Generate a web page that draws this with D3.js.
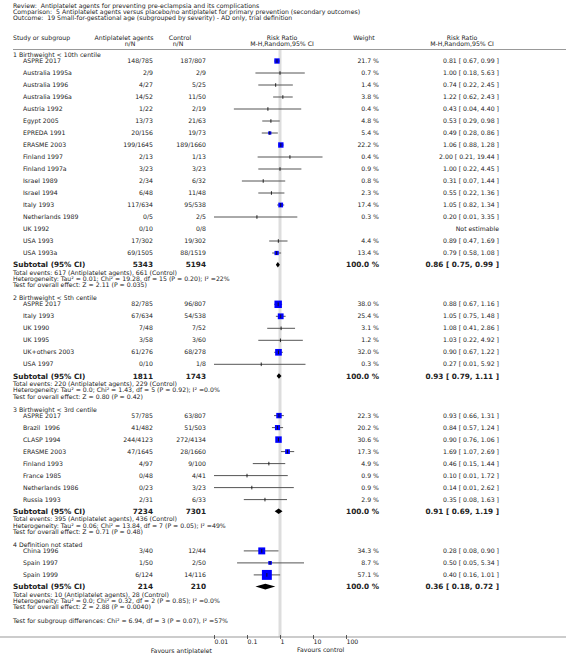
<!DOCTYPE html>
<html><head><meta charset="utf-8">
<script src="https://cdn.jsdelivr.net/npm/d3@7/dist/d3.min.js"></script>
<style>
html,body{margin:0;padding:0;background:#fff;}
svg text{font-family:"DejaVu Sans",Verdana,sans-serif;white-space:pre;fill:#222;}
</style></head>
<body>
<svg id="chart" width="566" height="661"></svg>
<script>
// ---------- DATA ----------
const titleLines = [
  "Review:  Antiplatelet agents for preventing pre-eclampsia and its complications",
  "Comparison:  5 Antiplatelet agents versus placebo/no antiplatelet for primary prevention (secondary outcomes)",
  "Outcome:  19 Small-for-gestational age (subgrouped by severity) - AD only, trial definition"
];
const groupTitles = ["1 Birthweight < 10th centile","2 Birthweight < 5th centile","3 Birthweight < 3rd centile","4 Definition not stated"];
const studyGroup = [0,0,0,0,0,0,0,0,0,0,0,0,0,0,0,0,0, 1,1,1,1,1,1, 2,2,2,2,2,2,2,2, 3,3,3];
const studyNames = ["ASPRE 2017","Australia 1995a","Australia 1996","Australia 1996a","Austria 1992","Egypt 2005","EPREDA 1991","ERASME 2003","Finland 1997","Finland 1997a","Israel 1989","Israel 1994","Italy 1993","Netherlands 1989","UK 1992","USA 1993","USA 1993a",
  "ASPRE 2017","Italy 1993","UK 1990","UK 1995","UK+others 2003","USA 1997",
  "ASPRE 2017","Brazil  1996","CLASP 1994","ERASME 2003","Finland 1993","France 1985","Netherlands 1986","Russia 1993",
  "China 1996","Spain 1997","Spain 1999"];
const antiplateletNN = ["148/785","2/9","4/27","14/52","1/22","13/73","20/156","199/1645","2/13","3/23","2/34","6/48","117/634","0/5","0/10","17/302","69/1505",
  "82/785","67/634","7/48","3/58","61/276","0/10",
  "57/785","41/482","244/4123","47/1645","4/97","0/48","0/23","2/31",
  "3/40","1/50","6/124"];
const controlNN = ["187/807","2/9","5/25","11/50","2/19","21/63","19/73","189/1660","1/13","3/23","6/32","11/48","95/538","2/5","0/8","19/302","88/1519",
  "96/807","54/538","7/52","3/60","68/278","1/8",
  "63/807","51/503","272/4134","28/1660","9/100","4/41","3/23","6/33",
  "12/44","2/50","14/116"];
const weights = [21.7,0.7,1.4,3.8,0.4,4.8,5.4,22.2,0.4,0.9,0.8,2.3,17.4,0.3,null,4.4,13.4,
  38.0,25.4,3.1,1.2,32.0,0.3,
  22.3,20.2,30.6,17.3,4.9,0.9,0.9,2.9,
  34.3,8.7,57.1];
const riskRatios = [0.81,1.00,0.74,1.22,0.43,0.53,0.49,1.06,2.00,1.00,0.31,0.55,1.05,0.20,null,0.89,0.79,
  0.88,1.05,1.08,1.03,0.90,0.27,
  0.93,0.84,0.90,1.69,0.46,0.10,0.14,0.35,
  0.28,0.50,0.40];
const ciLower = [0.67,0.18,0.22,0.62,0.04,0.29,0.28,0.88,0.21,0.22,0.07,0.22,0.82,0.01,null,0.47,0.58,
  0.67,0.75,0.41,0.22,0.67,0.01,
  0.66,0.57,0.76,1.07,0.15,0.01,0.01,0.08,
  0.08,0.05,0.16];
const ciUpper = [0.99,5.63,2.45,2.43,4.40,0.98,0.86,1.28,19.44,4.45,1.44,1.36,1.34,3.35,null,1.69,1.08,
  1.16,1.48,2.86,4.92,1.22,5.92,
  1.31,1.24,1.06,2.69,1.44,1.72,2.62,1.63,
  0.90,5.34,1.01];
const subtotalAnti = [5343,1811,7234,214];
const subtotalControl = [5194,1743,7301,210];
const subtotalRR = [0.86,0.93,0.91,0.36];
const subtotalLower = [0.75,0.79,0.69,0.18];
const subtotalUpper = [0.99,1.11,1.19,0.72];
const totalEventsText = [
  "Total events: 617 (Antiplatelet agents), 661 (Control)",
  "Total events: 220 (Antiplatelet agents), 229 (Control)",
  "Total events: 395 (Antiplatelet agents), 436 (Control)",
  "Total events: 10 (Antiplatelet agents), 28 (Control)"];
const heterogeneityText = [
  "Heterogeneity: Tau\u00B2 = 0.01; Chi\u00B2 = 19.28, df = 15 (P = 0.20); I\u00B2 =22%",
  "Heterogeneity: Tau\u00B2 = 0.0; Chi\u00B2 = 1.43, df = 5 (P = 0.92); I\u00B2 =0.0%",
  "Heterogeneity: Tau\u00B2 = 0.06; Chi\u00B2 = 13.84, df = 7 (P = 0.05); I\u00B2 =49%",
  "Heterogeneity: Tau\u00B2 = 0.0; Chi\u00B2 = 0.32, df = 2 (P = 0.85); I\u00B2 =0.0%"];
const overallEffectText = [
  "Test for overall effect: Z = 2.11 (P = 0.035)",
  "Test for overall effect: Z = 0.80 (P = 0.42)",
  "Test for overall effect: Z = 0.71 (P = 0.48)",
  "Test for overall effect: Z = 2.88 (P = 0.0040)"];
const subgroupDiffText = "Test for subgroup differences: Chi\u00B2 = 6.94, df = 3 (P = 0.07), I\u00B2 =57%";
const axisTicks = [0.01,0.1,1,10,100];
const tickLabels = ["0.01","0.1","1","10","100"];
const favoursLeft = "Favours antiplatelet";
const favoursRight = "Favours control";

// ---------- LAYOUT ----------
const svg = d3.select("#chart");
const FS = 6.2, FSB = 7.3;
const x = d3.scaleLog().domain([0.01,100]).range([214,346]);
const colName = 23, colAnti = 153, colCtrl = 206, colW = 379, colRR = 499;
const fmt2 = d3.format(".2f");
const rrText = (r,l,u) => `${fmt2(r)} [ ${fmt2(l)}, ${fmt2(u)} ]`;

function txt(xp, yp, s, opts={}) {
  return svg.append("text").attr("x", xp).attr("y", yp).attr("dy","0.35em")
    .attr("font-size", opts.bold ? FSB : (opts.size||FS))
    .attr("font-weight", opts.bold ? "bold" : "normal")
    .attr("text-anchor", opts.anchor || "start")
    .text(s);
}

// titles
titleLines.forEach((t,i)=>txt(13, 5.5 + i*6.2, t));

// header
txt(13, 37.5, "Study or subgroup");
txt(124, 37.5, "Antiplatelet agents", {anchor:"middle"});
txt(130, 44, "n/N", {anchor:"middle"});
txt(180, 37.5, "Control", {anchor:"middle"});
txt(178, 44, "n/N", {anchor:"middle"});
txt(282, 37.5, "Risk Ratio", {anchor:"middle"});
txt(282, 44, "M-H,Random,95% CI", {anchor:"middle"});
txt(364, 37.5, "Weight", {anchor:"middle"});
txt(462, 37.5, "Risk Ratio", {anchor:"middle"});
txt(462, 44, "M-H,Random,95% CI", {anchor:"middle"});

svg.append("line").attr("x1",13).attr("x2",566).attr("y1",49.5).attr("y2",49.5)
  .attr("stroke","#999").attr("stroke-width",1.2);

// compute y positions
const rowY = [], groupTitleY = [], subtotalY = [], statsY = [];
let y = 55;
groupTitles.forEach((g,gi)=>{
  groupTitleY.push(y);
  const ry = y + 6;
  const idx = studyGroup.map((s,i)=>s===gi?i:-1).filter(i=>i>=0);
  idx.forEach((i,k)=>{ rowY[i] = ry + k*12; });
  const last = ry + (idx.length-1)*12;
  const sy = last + 11.7;
  subtotalY.push(sy);
  statsY.push([sy+7.8, sy+14.1, sy+20.4]);
  y = sy + 20.4 + 13.2;
});
const subgroupY = statsY[3][2] + 14;
const axisY = 637;

// reference line at 1
svg.append("line").attr("x1",x(1)).attr("x2",x(1)).attr("y1",50).attr("y2",axisY)
  .attr("stroke","#dddddd").attr("stroke-width",3);

// group titles
groupTitles.forEach((g,gi)=>txt(13, groupTitleY[gi], g));

// study rows
studyNames.forEach((n,i)=>{
  const yy = rowY[i];
  txt(colName, yy, n);
  txt(colAnti, yy, antiplateletNN[i], {anchor:"end"});
  txt(colCtrl, yy, controlNN[i], {anchor:"end"});
  if (weights[i] == null) {
    txt(colRR, yy, "Not estimable", {anchor:"end"});
    return;
  }
  txt(colW, yy, weights[i].toFixed(1) + " %", {anchor:"end"});
  txt(colRR, yy, rrText(riskRatios[i], ciLower[i], ciUpper[i]), {anchor:"end"});
  svg.append("line").attr("x1",x(ciLower[i])).attr("x2",x(ciUpper[i]))
    .attr("y1",yy).attr("y2",yy).attr("stroke","#555").attr("stroke-width",1);
  if (weights[i] >= 5) {
    const s = 2.5 + 0.13*weights[i];
    svg.append("rect").attr("x",x(riskRatios[i])-s/2).attr("y",yy-s/2)
      .attr("width",s).attr("height",s).attr("fill","#0000ff");
  }
  svg.append("line").attr("x1",x(riskRatios[i])).attr("x2",x(riskRatios[i]))
    .attr("y1",yy-1.8).attr("y2",yy+1.8).attr("stroke","#111").attr("stroke-width",0.9);
});

// subtotals
groupTitles.forEach((g,gi)=>{
  const sy = subtotalY[gi];
  txt(13, sy, "Subtotal (95% CI)", {bold:true});
  txt(colAnti, sy, String(subtotalAnti[gi]), {anchor:"end", bold:true});
  txt(colCtrl, sy, String(subtotalControl[gi]), {anchor:"end", bold:true});
  txt(colW, sy, "100.0 %", {anchor:"end", bold:true});
  txt(colRR, sy, rrText(subtotalRR[gi], subtotalLower[gi], subtotalUpper[gi]), {anchor:"end", bold:true});
  const h = 2.8;
  const pts = [[x(subtotalLower[gi]),sy],[x(subtotalRR[gi]),sy-h],[x(subtotalUpper[gi]),sy],[x(subtotalRR[gi]),sy+h]];
  svg.append("path").attr("d", d3.line()(pts)+"Z").attr("fill","#000");
  txt(13, statsY[gi][0], totalEventsText[gi]);
  txt(13, statsY[gi][1], heterogeneityText[gi]);
  txt(13, statsY[gi][2], overallEffectText[gi]);
});
txt(13, subgroupY, subgroupDiffText);

// axis
svg.append("line").attr("x1",0).attr("x2",566).attr("y1",axisY).attr("y2",axisY)
  .attr("stroke","#999").attr("stroke-width",1.2);
const ax = svg.append("g").attr("transform",`translate(0,${axisY-2})`)
  .call(d3.axisBottom(x).tickValues(axisTicks).tickFormat((d,i)=>tickLabels[i]).tickSize(4));
ax.select(".domain").remove();
ax.selectAll(".tick line").attr("stroke","#333").attr("stroke-width",0.8);
ax.selectAll(".tick text").attr("font-size",FS).attr("text-anchor","start")
  .attr("font-family","DejaVu Sans").attr("fill","#222").attr("dy","0.35em").attr("x",0).attr("y",6.5);

txt(212, 650.5, favoursLeft, {anchor:"end"});
txt(297, 649.5, favoursRight);
</script>
</body></html>
